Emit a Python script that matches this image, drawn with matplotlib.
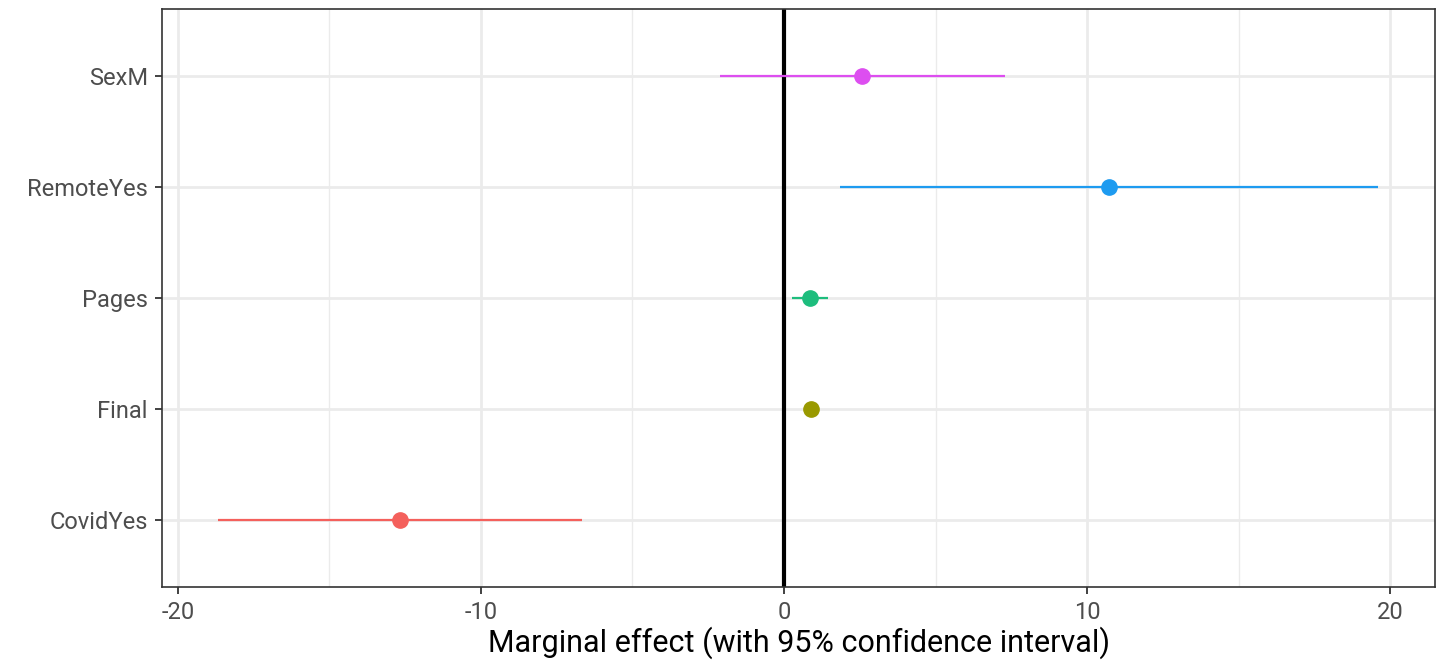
import matplotlib
matplotlib.use("Agg")
import matplotlib.pyplot as plt
from matplotlib.ticker import MultipleLocator

plt.rcParams['font.family'] = ['Roboto', 'DejaVu Sans']
plt.rcParams['axes.unicode_minus'] = False

terms = ["CovidYes", "Final", "Pages", "RemoteYes", "SexM"]
estimate = [-12.68, 0.89, 0.85, 10.73, 2.58]
conf_low = [-18.68, 0.80, 0.25, 1.85, -2.11]
conf_high = [-6.67, 0.98, 1.45, 19.6, 7.29]
colors = ["#F4605C", "#999900", "#1DBD7D", "#1E9BF0", "#DD4EF0"]

fig, ax = plt.subplots(figsize=(14.44, 6.64), dpi=100)
fig.subplots_adjust(left=0.112, right=0.994, top=0.986, bottom=0.116)

ypos = list(range(1, len(terms) + 1))

# grid first, ggplot theme_bw style
ax.set_axisbelow(True)
ax.xaxis.set_minor_locator(MultipleLocator(5))
ax.grid(which='major', color='#EBEBEB', linewidth=2)
ax.grid(which='minor', axis='x', color='#EBEBEB', linewidth=1)

ax.axvline(0, color='black', linewidth=3, zorder=2)

for y, est, lo, hi, c in zip(ypos, estimate, conf_low, conf_high, colors):
    ax.plot([lo, hi], [y, y], color=c, linewidth=1.6, zorder=3, solid_capstyle='butt')
    ax.plot(est, y, 'o', color=c, markersize=11, zorder=4)

ax.set_xlim(-20.53, 21.49)
ax.set_ylim(0.4, 5.6)
ax.set_xticks([-20, -10, 0, 10, 20])
ax.set_yticks(ypos)
ax.set_yticklabels(terms)

ax.tick_params(axis='both', which='major', labelsize=17, labelcolor='#4D4D4D',
               color='#333333', length=5, width=1.3, pad=5)
ax.tick_params(axis='both', which='minor', length=0)
for s in ax.spines.values():
    s.set_color('#333333')
    s.set_linewidth(1.2)

ax.set_xlabel("Marginal effect (with 95% confidence interval)", fontsize=22, labelpad=2)

fig.savefig("out.png", dpi=100)
